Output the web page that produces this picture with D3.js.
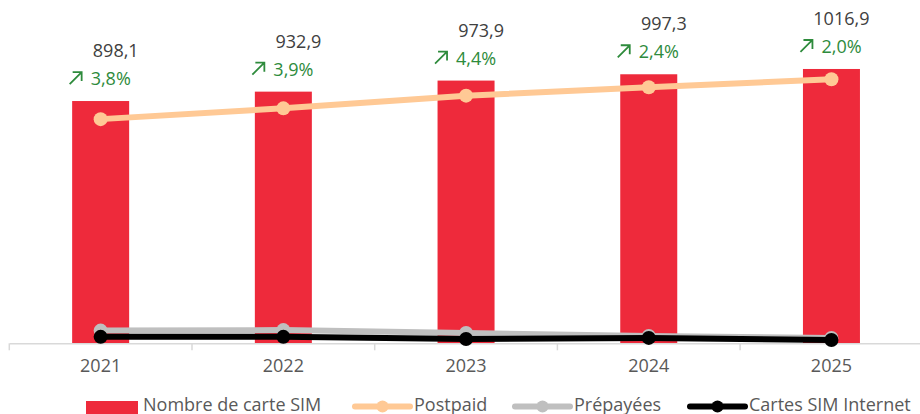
<!DOCTYPE html>
<html>
<head>
<meta charset="utf-8">
<script src="https://cdn.jsdelivr.net/npm/d3@7"></script>
<style>
  body { margin: 0; background: #fff; }
  svg { display: block; font-family: "Open Sans", sans-serif; }
</style>
</head>
<body>
<svg width="920" height="414"></svg>
<script>
// données
const years      = ["2021", "2022", "2023", "2024", "2025"];
const totalSim   = [898.1, 932.9, 973.9, 997.3, 1016.9];
const growth     = ["3,8%", "3,9%", "4,4%", "2,4%", "2,0%"];
const postpaid   = [831, 871, 918, 949, 979];
const prepaid    = [47, 49, 38, 27, 20];
const internet   = [24, 24, 16, 20, 12];

const svg = d3.select("svg");
const baseY = 343.3;

const x = d3.scaleBand()
    .domain(years)
    .range([9.3, 922.8]);

const y = d3.scaleLinear()
    .domain([0, 1200])
    .range([baseY, baseY - 1200 / 3.707]);

const barW = x.bandwidth() * 0.312;
const cx = d => x(d) + x.bandwidth() / 2;

// barres
svg.selectAll("rect.bar")
    .data(years)
    .enter()
    .append("rect")
    .attr("class", "bar")
    .attr("x", (d) => cx(d) - barW / 2)
    .attr("y", (d, i) => y(totalSim[i]))
    .attr("width", barW)
    .attr("height", (d, i) => baseY - y(totalSim[i]))
    .attr("fill", "#ee2a3b");

// axe horizontal
const axis = svg.append("g")
    .attr("transform", `translate(0,${baseY})`)
    .call(d3.axisBottom(x).tickSize(0).tickPadding(16));
axis.select(".domain").attr("stroke", "#d9d9d9").attr("stroke-width", 1.5);
axis.selectAll(".tick text")
    .attr("font-size", 18)
    .attr("fill", "#595959")
    .attr("font-family", "Open Sans, sans-serif");

// petites graduations entre catégories
svg.selectAll("line.sep")
    .data(d3.range(years.length + 1))
    .enter()
    .append("line")
    .attr("class", "sep")
    .attr("x1", i => x.range()[0] + i * x.step())
    .attr("x2", i => x.range()[0] + i * x.step())
    .attr("y1", baseY)
    .attr("y2", baseY + 7)
    .attr("stroke", "#d9d9d9")
    .attr("stroke-width", 1.5);

// séries en lignes
const series = [
    { name: "Prépayées", values: prepaid,  color: "#bfbfbf", width: 6 },
    { name: "Cartes SIM Internet", values: internet, color: "#000000", width: 6 },
    { name: "Postpaid",  values: postpaid, color: "#ffc995", width: 6 }
];

const line = d3.line()
    .x(d => cx(d.year))
    .y(d => y(d.v));

series.forEach(s => {
    const pts = years.map((yr, i) => ({ year: yr, v: s.values[i] }));
    svg.append("path")
        .datum(pts)
        .attr("d", line)
        .attr("fill", "none")
        .attr("stroke", s.color)
        .attr("stroke-width", s.width)
        .attr("stroke-linejoin", "round");
    svg.selectAll(null)
        .data(pts)
        .enter()
        .append("circle")
        .attr("cx", d => cx(d.year))
        .attr("cy", d => y(d.v))
        .attr("r", 7)
        .attr("fill", s.color);
});

// étiquettes de valeur (alignées à droite)
svg.selectAll("text.val")
    .data(years)
    .enter()
    .append("text")
    .attr("class", "val")
    .attr("x", d => cx(d) + 38)
    .attr("y", (d, i) => y(totalSim[i]) - 44)
    .attr("text-anchor", "end")
    .attr("font-size", 18)
    .attr("fill", "#404040")
    .text((d, i) => d3.format(".1f")(totalSim[i]).replace(".", ","));

// taux de croissance + flèche
const green = "#2e8b3c";
svg.selectAll("text.growth")
    .data(years)
    .enter()
    .append("text")
    .attr("class", "growth")
    .attr("x", d => cx(d) - 10)
    .attr("y", (d, i) => y(totalSim[i]) - 16)
    .attr("font-size", 18)
    .attr("fill", green)
    .text((d, i) => growth[i]);

svg.selectAll("path.arrow")
    .data(years)
    .enter()
    .append("path")
    .attr("class", "arrow")
    .attr("transform", (d, i) => `translate(${cx(d) - 32},${y(totalSim[i]) - 17})`)
    .attr("d", "M1,0 L13,-12 M4,-12 L13,-12 L13,-3")
    .attr("fill", "none")
    .attr("stroke", green)
    .attr("stroke-width", 1.8);

// légende
const legend = [
    { name: "Nombre de carte SIM", type: "rect", color: "#ee2a3b", x: 86 },
    { name: "Postpaid", type: "line", color: "#ffc995", x: 355 },
    { name: "Prépayées", type: "line", color: "#bfbfbf", x: 515 },
    { name: "Cartes SIM Internet", type: "line", color: "#000000", x: 690 }
];

const lg = svg.append("g");
legend.forEach(l => {
    const g = lg.append("g").attr("transform", `translate(${l.x},0)`);
    if (l.type === "rect") {
        g.append("rect").attr("x", 0).attr("y", 401).attr("width", 52).attr("height", 13).attr("fill", l.color);
        g.append("text").attr("x", 57).attr("y", 411).attr("font-size", 18).attr("fill", "#595959").text(l.name);
    } else {
        g.append("line").attr("x1", 0).attr("x2", 55).attr("y1", 406.5).attr("y2", 406.5)
            .attr("stroke", l.color).attr("stroke-width", 6).attr("stroke-linecap", "round");
        g.append("circle").attr("cx", 27.5).attr("cy", 406.5).attr("r", 6).attr("fill", l.color);
        g.append("text").attr("x", 59).attr("y", 411).attr("font-size", 18).attr("fill", "#595959").text(l.name);
    }
});
</script>
</body>
</html>
